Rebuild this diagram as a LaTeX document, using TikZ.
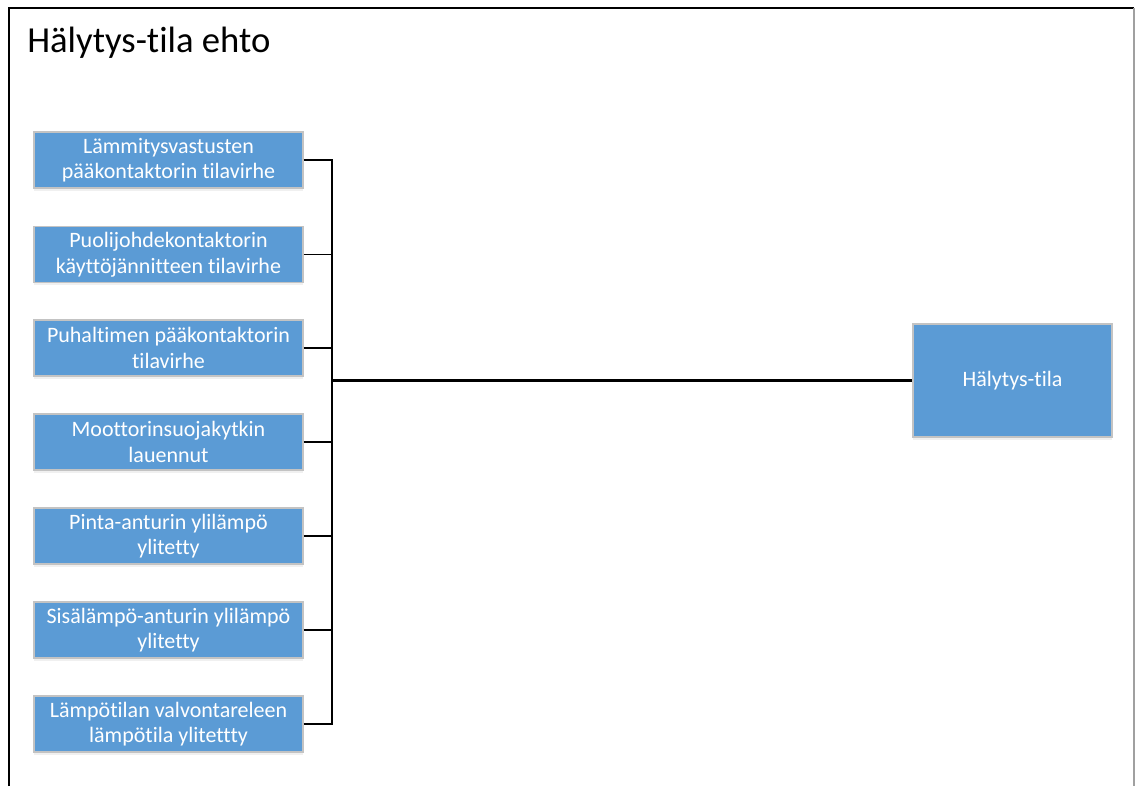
\documentclass[tikz,border=0pt]{standalone}
\usepackage{fontspec}
\setmainfont{Carlito}[Ligatures={NoCommon}]
\usetikzlibrary{shadows}
\definecolor{boxblue}{HTML}{5B9BD5}
\definecolor{boxedge}{HTML}{C3C3C3}
\definecolor{rightedge}{HTML}{A0A0A0}
\tikzset{
  cause/.style={rectangle, fill=boxblue, draw=boxedge, line width=0.8pt,
    minimum width=201.75pt, minimum height=42pt, text=white, align=center,
    inner sep=1pt, font=\fontsize{16.5}{19.2}\selectfont,
    drop shadow={opacity=0.12, shadow xshift=0pt, shadow yshift=-2pt}},
  result/.style={cause, minimum width=149.25pt, minimum height=84.75pt},
  link/.style={line width=1pt, black},
  mainline/.style={line width=1.9pt, black},
  frameline/.style={line width=1.5pt, black}
}
\begin{document}
\begin{tikzpicture}[x=0.75pt, y=-0.75pt]
\useasboundingbox (0,0) rectangle (1136,786);
% frame
\draw[frameline] (9,786) -- (9,8) -- (1134,8);
\draw[rightedge, line width=0.8pt] (1134,8) -- (1134,786);
\node[anchor=base west, inner sep=0pt, font=\fontsize{27.5}{32}\selectfont] (title) at (27,52) {Hälytys-tila ehto};
% cause boxes
\node[cause] (b1) at (168.5,160) {Lämmitysvastusten\\pääkontaktorin tilavirhe};
\node[cause] (b2) at (168.5,254.5) {Puolijohdekontaktorin\\käyttöjännitteen tilavirhe};
\node[cause] (b3) at (168.5,348) {Puhaltimen pääkontaktorin\\tilavirhe};
\node[cause] (b4) at (168.5,442) {Moottorinsuojakytkin\\lauennut};
\node[cause] (b5) at (168.5,536) {Pinta-anturin ylilämpö\\ylitetty};
\node[cause] (b6) at (168.5,630) {Sisälämpö-anturin ylilämpö\\ylitetty};
\node[cause] (b7) at (168.5,724) {Lämpötilan valvontareleen\\lämpötila ylitettty};
% result
\node[result] (alarm) at (1012.5,380.5) {Hälytys-tila};
% junction
\coordinate (j) at (332,380.5);
\foreach \i in {1,...,7}{
  \draw[link] (b\i.east) -| (j);
}
\draw[mainline] (b3.east -| j) -- (b4.east -| j);
\draw[mainline] (j) -- (alarm.west);
\end{tikzpicture}
\end{document}
